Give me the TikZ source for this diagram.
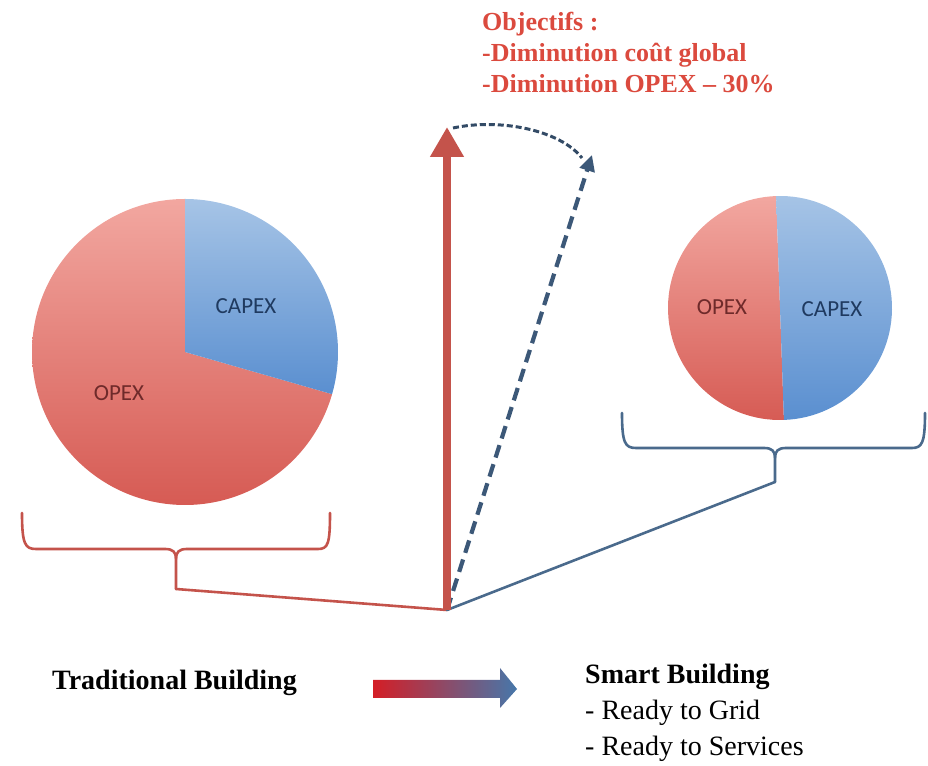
\documentclass[tikz,border=0pt]{standalone}
\usepackage{fontspec}
\setmainfont{Liberation Serif}
\newfontfamily\labelfont{Carlito}
\usetikzlibrary{arrows.meta}

\definecolor{opexTop}{HTML}{F2A7A0}
\definecolor{opexBot}{HTML}{D65B54}
\definecolor{capexTop}{HTML}{A6C4E6}
\definecolor{capexBot}{HTML}{5A8FD0}
\definecolor{opexText}{HTML}{6E2A2A}
\definecolor{capexText}{HTML}{1F3A60}
\definecolor{mainRed}{HTML}{C4534B}
\definecolor{slateBlue}{HTML}{4A6A8C}
\definecolor{darkSlate}{HTML}{3C5878}
\definecolor{objRed}{HTML}{DB4A3E}
\definecolor{gradRed}{HTML}{D41E26}
\definecolor{gradMid}{HTML}{8A5A90}
\definecolor{gradBlue}{HTML}{4677AA}

\tikzset{
  pielabel/.style={font=\labelfont\fontsize{23}{25}\selectfont, inner sep=0pt},
  redbrace/.style={draw=mainRed, line width=2.6pt, line cap=round, line join=round},
  bluebrace/.style={draw=slateBlue, line width=2.6pt, line cap=round, line join=round},
  redarrow/.style={draw=mainRed, line width=8pt, -{Triangle[length=30pt, width=32pt]}},
  dasharrow/.style={draw=darkSlate, line width=4.2pt, dash pattern=on 13pt off 7pt,
    -{Triangle[length=16pt, width=15pt]}},
  arcline/.style={draw=darkSlate!85!black, line width=3pt, dash pattern=on 6pt off 3pt},
  titletext/.style={font=\fontsize{28}{36}\selectfont, inner sep=0pt, align=left},
}

\begin{document}
\begin{tikzpicture}[x=1pt, y=1pt]
\useasboundingbox (0,0) rectangle (928,765);

% common origin of the three vectors
\coordinate (o) at (447,155);

% traditional building pie
\coordinate (lc) at (185,413);
\shade[top color=opexTop, bottom color=opexBot]
  (lc) -- ++(90:153) arc[start angle=90, end angle=344, radius=153] -- cycle;
\shade[top color=capexTop, bottom color=capexBot]
  (lc) -- ++(-16:153) arc[start angle=-16, end angle=90, radius=153] -- cycle;
\node[pielabel, text=capexText] (lcapex) at (246,459) {CAPEX};
\node[pielabel, text=opexText] (lopex) at (119,372) {OPEX};

% smart building pie
\coordinate (rc) at (780,457);
\shade[top color=opexTop, bottom color=opexBot]
  (rc) -- ++(92:112) arc[start angle=92, end angle=272, radius=112] -- cycle;
\shade[top color=capexTop, bottom color=capexBot]
  (rc) -- ++(-88:112) arc[start angle=-88, end angle=92, radius=112] -- cycle;
\node[pielabel, text=opexText] (ropex) at (722,458) {OPEX};
\node[pielabel, text=capexText] (rcapex) at (832,456) {CAPEX};

% braces under the pies
\coordinate (lstem) at (176,176);
\draw[redbrace] (22,252) .. controls (22,221) and (25,216) .. (36,216) -- (165,216)
  .. controls (173,216) and (176,213) .. (176,206) -- (lstem);
\draw[redbrace] (176,206) .. controls (176,213) and (179,216) .. (187,216) -- (318,216)
  .. controls (328,216) and (330,221) .. (330,252);

\coordinate (rstem) at (775,283);
\draw[bluebrace] (622,352) .. controls (622,322) and (625,317) .. (636,317) -- (764,317)
  .. controls (772,317) and (775,314) .. (775,307) -- (rstem);
\draw[bluebrace] (775,307) .. controls (775,314) and (778,317) .. (786,317) -- (912,317)
  .. controls (922,317) and (925,322) .. (925,352);

% connectors from braces to the origin
\draw[redbrace] (lstem) -- (o);
\draw[bluebrace] (rstem) -- (o);

% vectors
\coordinate (top) at (447,638);
\coordinate (tilt) at (592,610);
\draw[dasharrow] (o) -- (tilt);
\draw[redarrow] (o) -- (top);

% rotation between the two vectors
\coordinate (arcS) at (453,637);
\coordinate (arcE) at (582,607);
\draw[arcline] (arcS) .. controls (500,647) and (560,635) .. (arcE);

% objectives
\node[anchor=north west, inner sep=0pt, align=left, text=objRed,
  font=\fontsize{26}{31}\selectfont\bfseries] (obj) at (482,753)
  {Objectifs :\\-Diminution coût global\\-Diminution OPEX – 30\%};

% transition legend
\node[titletext, anchor=base west, font=\fontsize{28}{36}\selectfont\bfseries] (trad) at (52,75)
  {Traditional Building};
\shade[left color=gradRed, middle color=gradMid, right color=gradBlue]
  (373,85) -- (500,85) -- (500,97) -- (517,76) -- (500,57) -- (500,67) -- (373,67) -- cycle;
\node[titletext, anchor=north west] (smart) at (585,101)
  {\textbf{Smart Building}\\- Ready to Grid\\- Ready to Services};
\end{tikzpicture}
\end{document}
